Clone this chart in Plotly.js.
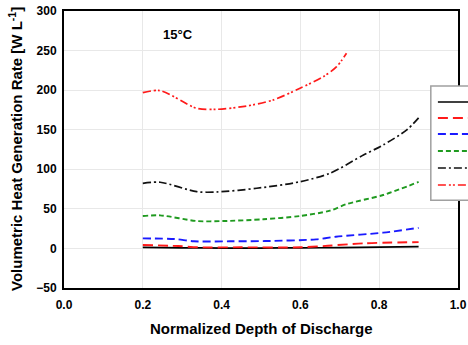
<!DOCTYPE html>
<html>
<head>
<meta charset="utf-8">
<script src="https://cdn.plot.ly/plotly-3.0.1.min.js"></script>
<style>html,body{margin:0;padding:0;background:#fff;}#chart{width:468px;height:345px;}</style>
</head>
<body>
<div id="chart"></div>
<script>
var seriesNames = ["0.5C", "1C", "2C", "3C", "4C", "5C"];

var x1 = [0.20, 0.30, 0.40, 0.50, 0.60, 0.70, 0.80, 0.90];
var y1 = [1.4, 0.8, 0.5, 0.5, 0.7, 1.0, 1.6, 2.2];

var x2 = [0.20, 0.29, 0.34, 0.45, 0.60, 0.67, 0.76, 0.90];
var y2 = [4.3, 3.0, 1.4, 1.4, 1.4, 3.4, 6.4, 8.0];

var x3 = [0.20, 0.28, 0.33, 0.42, 0.51, 0.64, 0.69, 0.81, 0.90];
var y3 = [12.7, 11.9, 9.0, 9.0, 9.3, 11.5, 14.8, 19.9, 26.0];

var x4 = [0.20, 0.244, 0.337, 0.404, 0.506, 0.599, 0.675, 0.717, 0.81, 0.90];
var y4 = [41.0, 41.8, 34.6, 34.6, 36.8, 41.0, 47.7, 56.0, 67.5, 84.0];

var x5 = [0.20, 0.244, 0.337, 0.387, 0.489, 0.599, 0.675, 0.76, 0.81, 0.87, 0.90];
var y5 = [82.3, 83.6, 71.7, 71.3, 76.0, 84.3, 95.0, 118.0, 130.7, 149.7, 165.0];

var x6 = [0.20, 0.244, 0.337, 0.387, 0.464, 0.531, 0.599, 0.658, 0.692, 0.717];
var y6 = [196.8, 199.4, 177.0, 175.8, 180.0, 187.6, 202.4, 217.0, 229.7, 246.6];

var xTicks = [0.0, 0.2, 0.4, 0.6, 0.8, 1.0];
var xTickText = ["0.0", "0.2", "0.4", "0.6", "0.8", "1.0"];
var yTicks = [-50, 0, 50, 100, 150, 200, 250, 300];

var xTitle = "Normalized Depth of Discharge";
var yTitle = "Volumetric Heat Generation Rate [W L<sup>-1</sup>]";
var tempLabel = "15°C";

var xs = [x1, x2, x3, x4, x5, x6];
var ys = [y1, y2, y3, y4, y5, y6];
var colors = ["#000000", "#ff1a1a", "#1a1aff", "#1f9a1f", "#111111", "#ff1a1a"];
var dashes = ["solid", "10px,5px", "8px,4px", "5px,3px", "8px,3px,2px,3px", "8px,3px,2px,2px,2px,3px"];
var widths = [1.7, 1.9, 1.9, 1.9, 1.7, 1.7];

var traces = [];
for (var i = 0; i < 6; i++) {
  traces.push({
    x: xs[i], y: ys[i], name: seriesNames[i], type: "scatter", mode: "lines",
    showlegend: false,
    line: {color: colors[i], width: widths[i], dash: dashes[i], shape: "spline", smoothing: 0.8}
  });
}

// Legend box (only its left part is inside the picture, as in the reference)
var legX0 = 0.931, legX1 = 1.05, legY0 = 0.3165, legY1 = 0.729;
var sampleX0 = 0.949, sampleX1 = 1.05;
var sampleY = [0.6715, 0.6137, 0.5560, 0.4946, 0.4332, 0.3718];
var shapes = [{
  type: "rect", xref: "paper", yref: "paper", x0: legX0, x1: legX1, y0: legY0, y1: legY1,
  fillcolor: "#ffffff", line: {color: "#a0a0a0", width: 1.5}, layer: "above"
}];
for (var j = 0; j < 6; j++) {
  shapes.push({
    type: "line", xref: "paper", yref: "paper", x0: sampleX0, x1: sampleX1, y0: sampleY[j], y1: sampleY[j],
    line: {color: colors[j], width: widths[j], dash: dashes[j]}, layer: "above"
  });
}

var fontFam = "Liberation Sans, Arial, sans-serif";
var layout = {
  width: 468, height: 345,
  margin: {l: 64, r: 10, t: 11, b: 57, autoexpand: false},
  paper_bgcolor: "#ffffff", plot_bgcolor: "#ffffff",
  font: {family: fontFam, size: 12, color: "#000"},
  showlegend: false,
  shapes: shapes,
  xaxis: {
    range: [0, 1], tickvals: xTicks, ticktext: xTickText,
    showgrid: true, gridcolor: "#e8e8e8", gridwidth: 1, zeroline: false,
    showline: true, linecolor: "#000", linewidth: 2, mirror: true,
    ticks: "outside", ticklen: 5, tickcolor: "rgba(0,0,0,0)",
    tickfont: {family: fontFam, size: 12, color: "#000", weight: "bold"}
  },
  yaxis: {
    range: [-50, 300], tickvals: yTicks,
    showgrid: true, gridcolor: "#e8e8e8", gridwidth: 1, zeroline: false,
    showline: true, linecolor: "#000", linewidth: 2, mirror: true,
    ticks: "outside", ticklen: 3, tickcolor: "rgba(0,0,0,0)",
    tickfont: {family: fontFam, size: 12, color: "#000", weight: "bold"}
  },
  annotations: [{
    x: 0.29, y: 270, xref: "x", yref: "y", text: tempLabel, showarrow: false,
    font: {family: fontFam, size: 13, color: "#000", weight: "bold"}
  }, {
    x: 0.5, y: -0.148, xref: "paper", yref: "paper", xanchor: "center", yanchor: "middle",
    text: xTitle, showarrow: false,
    font: {family: fontFam, size: 15, color: "#000", weight: "bold"}
  }, {
    x: -0.1218, y: 0.502, xref: "paper", yref: "paper", xanchor: "center", yanchor: "middle",
    textangle: -90, text: yTitle, showarrow: false,
    font: {family: fontFam, size: 15, color: "#000", weight: "bold"}
  }]
};

Plotly.newPlot("chart", traces, layout, {displayModeBar: false, staticPlot: true});
</script>
</body>
</html>
